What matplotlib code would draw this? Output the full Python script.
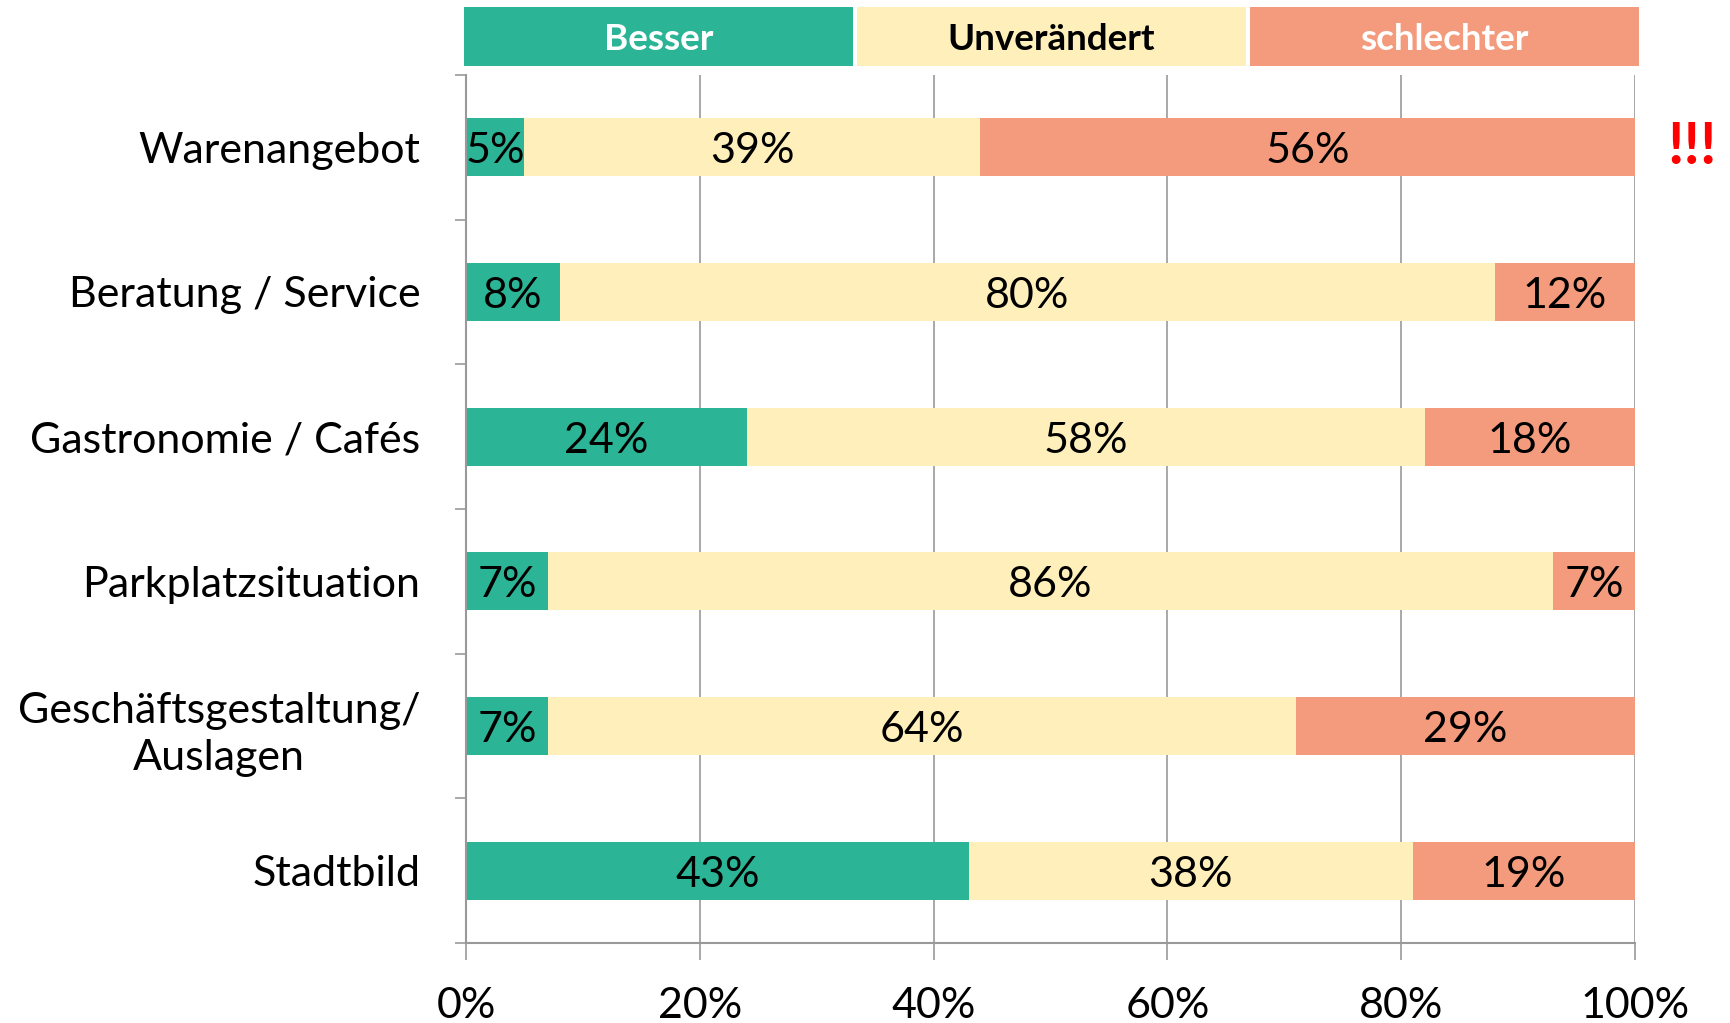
import matplotlib
matplotlib.use("Agg")
import matplotlib.pyplot as plt
from matplotlib.patches import Rectangle
import matplotlib.transforms as mtransforms
import numpy as np

categories = ["Warenangebot", "Beratung / Service", "Gastronomie / Cafés",
              "Parkplatzsituation", "Geschäftsgestaltung/\nAuslagen", "Stadtbild"]
series_names = ["Besser", "Unverändert", "schlechter"]
besser = [5, 8, 24, 7, 7, 43]
unveraendert = [39, 80, 58, 86, 64, 38]
schlechter = [56, 12, 18, 7, 29, 19]
xticks = [0, 20, 40, 60, 80, 100]
xticklabels = ["0%", "20%", "40%", "60%", "80%", "100%"]

colors = ["#2BB596", "#FEEFBB", "#F39B7C"]
legend_text_colors = ["white", "black", "white"]

plt.rcParams['font.family'] = ['Lato', 'DejaVu Sans']

W, H = 1730, 1023
fig = plt.figure(figsize=(W / 100, H / 100), dpi=100)
ax = fig.add_axes([466 / W, 1 - 943 / H, (1635 - 466) / W, (943 - 75) / H])

down = mtransforms.ScaledTranslation(0, -4 / 100, fig.dpi_scale_trans)

y = np.arange(len(categories))
series = [besser, unveraendert, schlechter]
left = np.zeros(len(categories))
for vals, c in zip(series, colors):
    vals = np.array(vals, dtype=float)
    bars = ax.barh(y, vals, left=left, height=0.4, color=c, zorder=3)
    for b, v in zip(bars, vals):
        ax.text(b.get_x() + b.get_width() / 2, b.get_y() + b.get_height() / 2,
                f"{int(v)}%", ha="center", va="center", fontsize=31, color="black",
                zorder=4, transform=ax.transData + down)
    left += vals

ax.set_xlim(0, 100)
ax.set_ylim(len(categories) - 0.5, -0.5)
ax.set_xticks(xticks)
ax.set_xticklabels(xticklabels, fontsize=31)
ax.set_yticks(y)
ax.set_yticklabels(categories, fontsize=31, multialignment="center", linespacing=1.3)
ax.set_yticks(np.arange(-0.5, len(categories) + 0.5, 1), minor=True)
ax.tick_params(axis="y", which="major", length=0, pad=33)
ax.tick_params(axis="y", which="minor", length=8, color="#999999", width=1.2)
ax.tick_params(axis="x", which="major", length=12, color="#999999", width=1.2, pad=20)
ax.grid(axis="x", color="#999999", linewidth=1.2, zorder=0)
for s in ["top", "right"]:
    ax.spines[s].set_visible(False)
for s in ["left", "bottom"]:
    ax.spines[s].set_color("#999999")
    ax.spines[s].set_linewidth(1.5)
    ax.spines[s].set_zorder(5)

# header legend
x0, x1 = 462 / W, 1641 / W
y0, y1 = 1 - 66 / H, 1 - 7 / H
seg = (x1 - x0) / 3
gap = 2 / W
for i, (name, c, tc) in enumerate(zip(series_names, colors, legend_text_colors)):
    fig.patches.append(Rectangle((x0 + i * seg + gap, y0), seg - 2 * gap, y1 - y0,
                                 transform=fig.transFigure, facecolor=c, edgecolor="none"))
    fig.text(x0 + i * seg + seg / 2, (y0 + y1) / 2 - 3 / H, name, ha="center", va="center",
             fontsize=26.5, fontweight="bold", color=tc)

fig.text(1692 / W, 1 - 147 / H, "!!!", ha="center", va="center", fontsize=42,
         fontweight="bold", color="#FF0000")

fig.savefig("out.png", dpi=100)
